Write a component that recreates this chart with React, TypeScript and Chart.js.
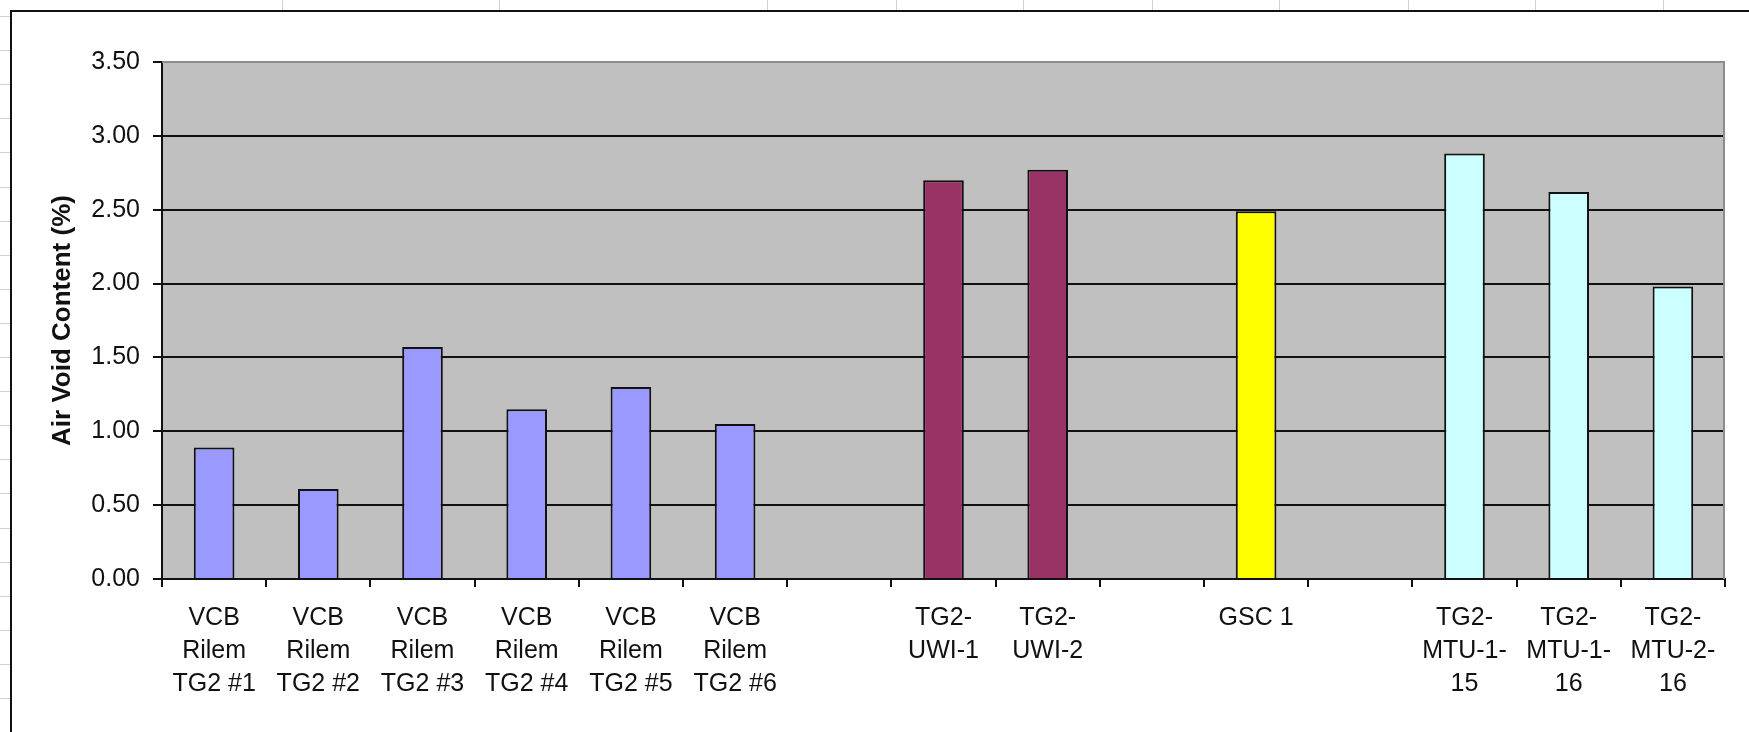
import React, { useEffect, useRef } from "react";
import { Chart, registerables } from "chart.js";

Chart.register(...registerables);

// Specimen labels (multi-line, as wrapped under each bar); blanks are spacer slots
const categories: string[][] = [
  ["VCB", "Rilem", "TG2 #1"],
  ["VCB", "Rilem", "TG2 #2"],
  ["VCB", "Rilem", "TG2 #3"],
  ["VCB", "Rilem", "TG2 #4"],
  ["VCB", "Rilem", "TG2 #5"],
  ["VCB", "Rilem", "TG2 #6"],
  [""],
  ["TG2-", "UWI-1"],
  ["TG2-", "UWI-2"],
  [""],
  ["GSC 1"],
  [""],
  ["TG2-", "MTU-1-", "15"],
  ["TG2-", "MTU-1-", "16"],
  ["TG2-", "MTU-2-", "16"],
];

// Air void content (%) per specimen
const airVoid: (number | null)[] = [
  0.89, 0.61, 1.57, 1.15, 1.3, 1.05, null, 2.7, 2.77, null, 2.49, null, 2.88, 2.62, 1.98,
];

// Specimen group of each slot
const groups: string[] = [
  "VCB", "VCB", "VCB", "VCB", "VCB", "VCB", "",
  "UWI", "UWI", "",
  "GSC", "",
  "MTU", "MTU", "MTU",
];

const groupColors: Record<string, string> = {
  VCB: "#9999FF",
  UWI: "#993366",
  GSC: "#FFFF00",
  MTU: "#CCFFFF",
  "": "transparent",
};

const yTicks = { min: 0, max: 3.5, step: 0.5 };

const W = 1749;
const H = 732;

// Worksheet backdrop, chart frame and plot-area fill
const sheetPlugin = {
  id: "sheet",
  beforeDraw(chart: Chart) {
    const { ctx, chartArea } = chart;
    ctx.save();
    ctx.fillStyle = "#ffffff";
    ctx.fillRect(0, 0, W, H);

    // worksheet cell lines peeking out around the chart object
    ctx.strokeStyle = "#d0d0d0";
    ctx.lineWidth = 1;
    const cols = [282, 499, 767, 896, 1023, 1152, 1279, 1408, 1535, 1663];
    cols.forEach((x) => {
      ctx.beginPath();
      ctx.moveTo(x + 0.5, 0);
      ctx.lineTo(x + 0.5, 10);
      ctx.stroke();
    });
    for (let y = 16; y < H; y += 34.1) {
      const yy = Math.round(y) + 0.5;
      ctx.beginPath();
      ctx.moveTo(0, yy);
      ctx.lineTo(10, yy);
      ctx.stroke();
    }

    // chart object frame
    ctx.strokeStyle = "#111111";
    ctx.lineWidth = 2;
    ctx.beginPath();
    ctx.moveTo(11, H);
    ctx.lineTo(11, 11);
    ctx.lineTo(W, 11);
    ctx.stroke();

    // plot area fill
    ctx.fillStyle = "#C0C0C0";
    ctx.fillRect(
      chartArea.left,
      chartArea.top,
      chartArea.right - chartArea.left,
      chartArea.bottom - chartArea.top
    );
    ctx.restore();
  },
  afterDatasetsDraw(chart: Chart) {
    const { ctx, chartArea } = chart;
    ctx.save();
    ctx.strokeStyle = "#8c8c8c";
    ctx.lineWidth = 2;
    ctx.beginPath();
    ctx.moveTo(chartArea.left, chartArea.top);
    ctx.lineTo(chartArea.right - 1, chartArea.top);
    ctx.lineTo(chartArea.right - 1, chartArea.bottom);
    ctx.stroke();
    ctx.restore();
  },
};

export default function App() {
  const canvasRef = useRef<HTMLCanvasElement | null>(null);

  useEffect(() => {
    const canvas = canvasRef.current;
    if (!canvas) return;

    const chart = new Chart(canvas, {
      type: "bar",
      data: {
        labels: categories,
        datasets: [
          {
            label: "Air Void Content (%)",
            data: airVoid,
            backgroundColor: groups.map((g) => groupColors[g]),
            borderColor: "#111111",
            borderWidth: 2,
            barPercentage: 0.39,
            categoryPercentage: 1,
          },
        ],
      },
      plugins: [sheetPlugin],
      options: {
        responsive: false,
        animation: false,
        devicePixelRatio: 1,
        layout: { padding: { left: 0, top: 62, right: 24, bottom: 0 } },
        plugins: {
          legend: { display: false },
          tooltip: { enabled: false },
        },
        scales: {
          x: {
            offset: true,
            grid: {
              offset: true,
              drawOnChartArea: false,
              drawTicks: true,
              tickLength: 8,
              tickColor: "#111111",
              lineWidth: 2,
            },
            border: { color: "#111111", width: 2 },
            ticks: {
              autoSkip: false,
              maxRotation: 0,
              minRotation: 0,
              padding: 15,
              color: "#111111",
              font: { family: "'Liberation Sans', Arial, sans-serif", size: 25, lineHeight: 1.31 },
            },
            afterFit: (scale: any) => {
              scale.height = 153;
            },
          },
          y: {
            min: yTicks.min,
            max: yTicks.max,
            grid: {
              color: (ctx: any) => (ctx.tick && ctx.tick.value === yTicks.max ? "#8c8c8c" : "#111111"),
              tickColor: "#111111",
              lineWidth: 2,
              tickLength: 9,
            },
            border: { color: "#111111", width: 2 },
            ticks: {
              stepSize: yTicks.step,
              padding: 13,
              color: "#111111",
              font: { family: "'Liberation Sans', Arial, sans-serif", size: 25 },
              callback: (v: any) => Number(v).toFixed(2),
            },
            title: {
              display: true,
              text: "Air Void Content (%)",
              color: "#111111",
              padding: { top: 47, bottom: 0 },
              font: { family: "'Liberation Sans', Arial, sans-serif", size: 26, weight: "bold", lineHeight: 1.2 },
            },
            afterFit: (scale: any) => {
              scale.width = 162;
            },
          },
        },
      },
    });

    return () => chart.destroy();
  }, []);

  return (
    <div style={{ position: "fixed", left: 0, top: 0, width: W, height: H, background: "#fff" }}>
      <canvas ref={canvasRef} width={W} height={H} style={{ display: "block", width: W, height: H }} />
    </div>
  );
}
